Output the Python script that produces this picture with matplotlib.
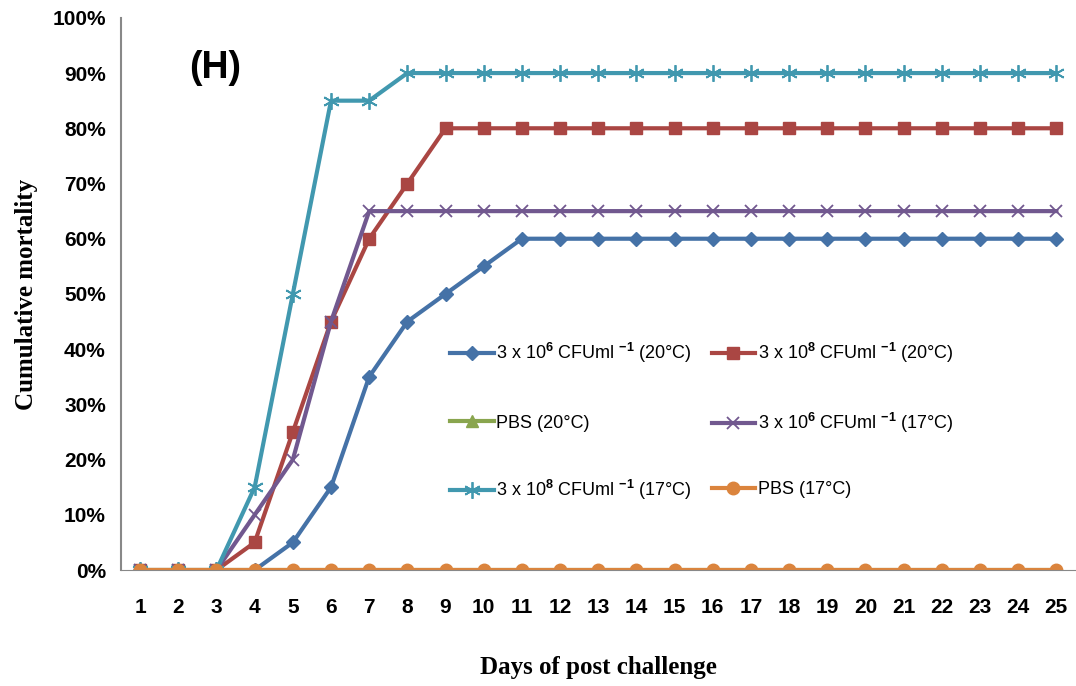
import matplotlib
matplotlib.use("Agg")
import matplotlib.pyplot as plt
from matplotlib.legend import Legend
import numpy as np

# days after challenge
days = list(range(1, 26))

# cumulative mortality (%) per group
blue_20 = [0, 0, 0, 0, 5, 15, 35, 45, 50, 55] + [60] * 15
red_20 = [0, 0, 0, 5, 25, 45, 60, 70] + [80] * 17
pbs_20 = [0] * 25
purple_17 = [0, 0, 0, 10, 20, 45] + [65] * 19
cyan_17 = [0, 0, 0, 15, 50, 85, 85] + [90] * 18
pbs_17 = [0] * 25

labels = [
    r"3 x 10$^{\mathbf{6}}$ CFUml $^{\mathbf{-1}}$ (20°C)",
    r"3 x 10$^{\mathbf{8}}$ CFUml $^{\mathbf{-1}}$ (20°C)",
    "PBS (20°C)",
    r"3 x 10$^{\mathbf{6}}$ CFUml $^{\mathbf{-1}}$ (17°C)",
    r"3 x 10$^{\mathbf{8}}$ CFUml $^{\mathbf{-1}}$ (17°C)",
    "PBS (17°C)",
]

plt.rcParams["font.family"] = ["Liberation Sans", "DejaVu Sans"]
plt.rcParams["mathtext.fontset"] = "custom"
plt.rcParams["mathtext.rm"] = "Liberation Sans"
plt.rcParams["mathtext.bf"] = "Liberation Sans:bold"

fig = plt.figure(figsize=(10.76, 6.86), dpi=100)
ax = fig.add_axes([0.1125, 0.169, 0.887, 0.805])

star = (6, 2, 0)
lines = []
lines += ax.plot(days, blue_20, color="#4572A7", marker="D", ms=7, lw=3)
lines += ax.plot(days, red_20, color="#AA4643", marker="s", ms=9, lw=3)
lines += ax.plot(days, pbs_20, color="#89A54E", marker="^", ms=8, lw=3)
lines += ax.plot(days, purple_17, color="#71588F", marker="x", ms=9, mew=1.3, lw=3)
lines += ax.plot(days, cyan_17, color="#4198AF", marker=star, ms=12, mew=1.3, lw=3)
lines += ax.plot(days, pbs_17, color="#DB843D", marker="o", ms=9, lw=3)

ax.set_xlim(0.5, 25.5)
ax.set_ylim(0, 100)
ax.set_xticks(days)
ax.set_yticks(np.arange(0, 101, 10))
ax.set_yticklabels([f"{v}%" for v in range(0, 101, 10)])
for lab in ax.get_xticklabels() + ax.get_yticklabels():
    lab.set_fontweight("bold")
    lab.set_fontsize(15)
ax.tick_params(axis="y", length=0, pad=11)
ax.tick_params(axis="x", length=0, pad=20)

for s in ["top", "right"]:
    ax.spines[s].set_visible(False)
ax.spines["left"].set_color("#888888")
ax.spines["bottom"].set_color("#888888")
ax.spines["left"].set_linewidth(1.5)

ax.set_xlabel("Days of post challenge", family="Liberation Serif", fontweight="bold",
              fontsize=18, labelpad=28)
ax.set_ylabel("Cumulative mortality", family="Liberation Serif", fontweight="bold",
              fontsize=18, labelpad=10)

ax.text(2.96, 91, "(H)", fontsize=27, fontweight="bold", ha="center", va="center")

# legend laid out row by row, one entry per slot so rows line up
col_x = [0.345, 0.619]
row_y = [0.393, 0.266, 0.145]
for i, (ln, lab) in enumerate(zip(lines, labels)):
    lg = Legend(ax, [ln], [lab], loc="center left",
                bbox_to_anchor=(col_x[i % 2], row_y[i // 2]),
                frameon=False, borderpad=0, borderaxespad=0,
                prop={"size": 13}, handlelength=2.4, handletextpad=0.15)
    ax.add_artist(lg)

fig.savefig("out.png", dpi=100)
